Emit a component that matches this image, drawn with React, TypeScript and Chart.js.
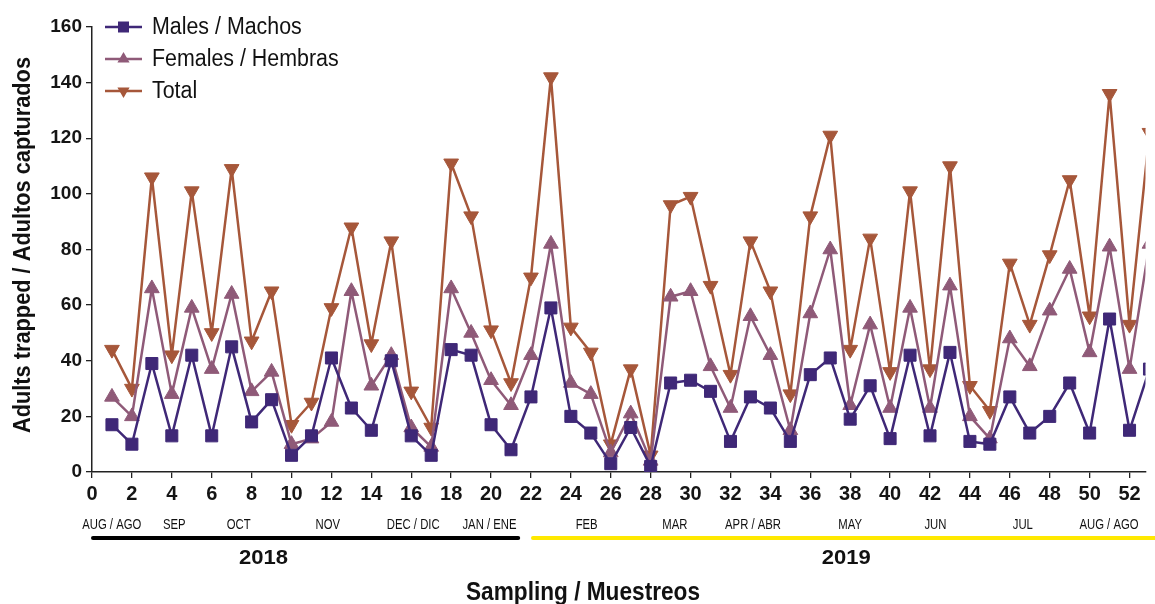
import React, { useEffect, useRef } from "react";
import { Chart, registerables } from "chart.js";

Chart.register(...registerables);

// ---------- data ----------
const samplings = [
  1, 2, 3, 4, 5, 6, 7, 8, 9, 10, 11, 12, 13, 14, 15, 16, 17, 18, 19, 20, 21, 22, 23, 24, 25, 26,
  27, 28, 29, 30, 31, 32, 33, 34, 35, 36, 37, 38, 39, 40, 41, 42, 43, 44, 45, 46, 47, 48, 49, 50,
  51, 52, 53,
];
const males = [
  17, 10, 39, 13, 42, 13, 45, 18, 26, 6, 13, 41, 23, 15, 40, 13, 6, 44, 42, 17, 8, 27, 59, 20, 14, 3,
  16, 2, 32, 33, 29, 11, 27, 23, 11, 35, 41, 19, 31, 12, 42, 13, 43, 11, 10, 27, 14, 20, 32, 14,
  55, 15, 37,
];
const females = [
  27, 20, 66, 28, 59, 37, 64, 29, 36, 10, 12, 18, 65, 31, 42, 16, 9, 66, 50, 33, 24, 42, 82, 32, 28, 7,
  21, 4, 63, 65, 38, 23, 56, 42, 15, 57, 80, 24, 53, 23, 59, 23, 67, 20, 12, 48, 38, 58, 73, 43,
  81, 37, 82,
];
const total = [
  44, 30, 106, 42, 101, 50, 109, 47, 65, 17, 25, 59, 88, 46, 83, 29, 16, 111, 92, 51, 32, 70, 142, 52, 43, 10,
  37, 6, 96, 99, 67, 35, 83, 65, 28, 92, 121, 44, 84, 36, 101, 37, 110, 31, 22, 75, 53, 78, 105, 56,
  136, 53, 122,
];

const seriesNames = ["Males / Machos", "Females / Hembras", "Total"];
const xTickValues = [0, 2, 4, 6, 8, 10, 12, 14, 16, 18, 20, 22, 24, 26, 28, 30, 32, 34, 36, 38, 40, 42, 44, 46, 48, 50, 52];
const yTickValues = [0, 20, 40, 60, 80, 100, 120, 140, 160];

const monthLabels = [
  "AUG / AGO", "SEP", "OCT", "NOV", "DEC / DIC", "JAN / ENE", "FEB", "MAR", "APR / ABR", "MAY", "JUN", "JUL", "AUG / AGO",
];
const monthAt = [0.99, 4.12, 7.35, 11.82, 16.1, 19.92, 24.79, 29.21, 33.13, 38.0, 42.27, 46.65, 50.97];

const yearLabels = ["2018", "2019"];
const yearCenterAt = [8.59, 37.8];
const yearStart = [0.05, 22.1];
const yearEnd = [21.36, 54];

const yTitle = "Adults trapped / Adultos capturados";
const xTitle = "Sampling / Muestreos";

// ---------- styles ----------
const C_MALE = "#3f2877";
const C_FEMALE = "#8f5a78";
const C_TOTAL = "#a6573a";
const YEAR_COLORS = ["#000000", "#ffe900"];
const SANS = "'Liberation Sans', Arial, Helvetica, sans-serif";

// draw text horizontally condensed (to imitate a narrow typeface)
function narrowText(
  ctx: CanvasRenderingContext2D,
  text: string,
  x: number,
  y: number,
  font: string,
  opts: { width?: number; squeeze?: number; align?: CanvasTextAlign; baseline?: CanvasTextBaseline; rotate?: number }
) {
  ctx.save();
  ctx.font = font;
  ctx.textAlign = opts.align || "center";
  ctx.textBaseline = opts.baseline || "middle";
  ctx.fillStyle = "#111";
  const w = ctx.measureText(text).width;
  const k = opts.width ? opts.width / w : opts.squeeze || 0.82;
  ctx.translate(x, y);
  if (opts.rotate) ctx.rotate(opts.rotate);
  ctx.scale(k, 1);
  ctx.fillText(text, 0, 0);
  ctx.restore();
}

function drawMarker(ctx: CanvasRenderingContext2D, kind: string, x: number, y: number, r: number, color: string) {
  ctx.fillStyle = color;
  ctx.beginPath();
  if (kind === "rect") {
    ctx.rect(x - r, y - r, 2 * r, 2 * r);
  } else if (kind === "up") {
    ctx.moveTo(x, y - r);
    ctx.lineTo(x + r * 0.87, y + r * 0.5);
    ctx.lineTo(x - r * 0.87, y + r * 0.5);
    ctx.closePath();
  } else {
    ctx.moveTo(x, y + r);
    ctx.lineTo(x + r * 0.87, y - r * 0.5);
    ctx.lineTo(x - r * 0.87, y - r * 0.5);
    ctx.closePath();
  }
  ctx.fill();
}

const overlay = {
  id: "overlay",
  afterDraw(chart: any) {
    const ctx: CanvasRenderingContext2D = chart.ctx;
    const xs = chart.scales.x;

    // y title
    narrowText(ctx, yTitle, 23, 245, `bold 24px ${SANS}`, { width: 376, rotate: -Math.PI / 2 });

    // months
    monthLabels.forEach((m, i) =>
      narrowText(ctx, m, xs.getPixelForValue(monthAt[i]), 525, `14.5px ${SANS}`, { squeeze: 0.78 })
    );

    // year bars and labels
    ctx.save();
    ctx.lineWidth = 4;
    ctx.lineCap = "round";
    yearLabels.forEach((yl, i) => {
      ctx.strokeStyle = YEAR_COLORS[i];
      ctx.beginPath();
      ctx.moveTo(xs.getPixelForValue(yearStart[i]), 538);
      ctx.lineTo(xs.getPixelForValue(yearEnd[i]), 538);
      ctx.stroke();
    });
    ctx.restore();
    yearLabels.forEach((yl, i) =>
      narrowText(ctx, yl, xs.getPixelForValue(yearCenterAt[i]), 558, `bold 21px ${SANS}`, { width: 49 })
    );

    // x title
    narrowText(ctx, xTitle, 583, 600, `bold 26px ${SANS}`, { width: 234, baseline: "alphabetic" });

    // legend
    ctx.save();
    const colors = [C_MALE, C_FEMALE, C_TOTAL];
    const kinds = ["rect", "up", "down"];
    seriesNames.forEach((name, i) => {
      const y = 27 + i * 32;
      ctx.strokeStyle = colors[i];
      ctx.lineWidth = 2.5;
      ctx.beginPath();
      ctx.moveTo(105, y);
      ctx.lineTo(142, y);
      ctx.stroke();
      drawMarker(ctx, kinds[i], 123.5, y, i === 0 ? 5.5 : 7, colors[i]);
      narrowText(ctx, name, 152, y + 1, `23px ${SANS}`, { squeeze: 0.93, align: "left" });
    });
    ctx.restore();
  },
};

export default function App() {
  const ref = useRef<HTMLCanvasElement>(null);
  useEffect(() => {
    if (!ref.current) return;
    const pts = (vals: number[]) => samplings.map((s, i) => ({ x: s, y: vals[i] }));
    const common = {
      pointRadius: 8.5,
      pointBorderWidth: 1,
      borderWidth: 2.5,
      borderJoinStyle: "round",
      tension: 0,
    };
    const chart = new Chart(ref.current, {
      type: "line",
      data: {
        datasets: [
          {
            ...common,
            label: seriesNames[0],
            data: pts(males),
            borderColor: C_MALE,
            backgroundColor: C_MALE,
            pointBackgroundColor: C_MALE,
            pointBorderColor: C_MALE,
            pointStyle: "rect",
          },
          {
            ...common,
            label: seriesNames[1],
            data: pts(females),
            borderColor: C_FEMALE,
            backgroundColor: C_FEMALE,
            pointBackgroundColor: C_FEMALE,
            pointBorderColor: C_FEMALE,
            pointStyle: "triangle",
          },
          {
            ...common,
            label: seriesNames[2],
            data: pts(total),
            borderColor: C_TOTAL,
            backgroundColor: C_TOTAL,
            pointBackgroundColor: C_TOTAL,
            pointBorderColor: C_TOTAL,
            pointStyle: "triangle",
            pointRotation: 180,
          },
        ],
      },
      options: {
        responsive: false,
        animation: false,
        devicePixelRatio: 1,
        layout: { padding: { top: 27, left: 0, right: 0, bottom: 0 } },
        plugins: {
          legend: { display: false },
          tooltip: { enabled: false },
          title: { display: false },
        },
        scales: {
          x: {
            type: "linear",
            min: 0,
            max: 52.8,
            afterBuildTicks: (s: any) => {
              s.ticks = xTickValues.map((v) => ({ value: v }));
            },
            afterFit: (s: any) => {
              s.height = 132;
            },
            grid: { drawOnChartArea: false, drawTicks: true, tickLength: 6, color: "#222", lineWidth: 1.3 },
            border: { color: "#222", width: 1.5 },
            ticks: {
              font: { family: SANS, size: 20, weight: "bold" },
              color: "#151515",
              padding: 4,
              maxRotation: 0,
              autoSkip: false,
            },
          },
          y: {
            min: 0,
            max: 160,
            afterBuildTicks: (s: any) => {
              s.ticks = yTickValues.map((v) => ({ value: v }));
            },
            afterFit: (s: any) => {
              s.width = 92;
            },
            grid: { drawOnChartArea: false, drawTicks: true, tickLength: 6, color: "#222", lineWidth: 1.3 },
            border: { color: "#222", width: 1.5 },
            ticks: {
              font: { family: SANS, size: 19, weight: "bold" },
              color: "#151515",
              padding: 4,
            },
          },
        },
      },
      plugins: [overlay],
    } as any);
    return () => chart.destroy();
  }, []);
  return (
    <div style={{ position: "absolute", left: 0, top: 0, width: 1155, height: 604, background: "#fff" }}>
      <canvas ref={ref} width={1155} height={604} style={{ display: "block" }} />
    </div>
  );
}
